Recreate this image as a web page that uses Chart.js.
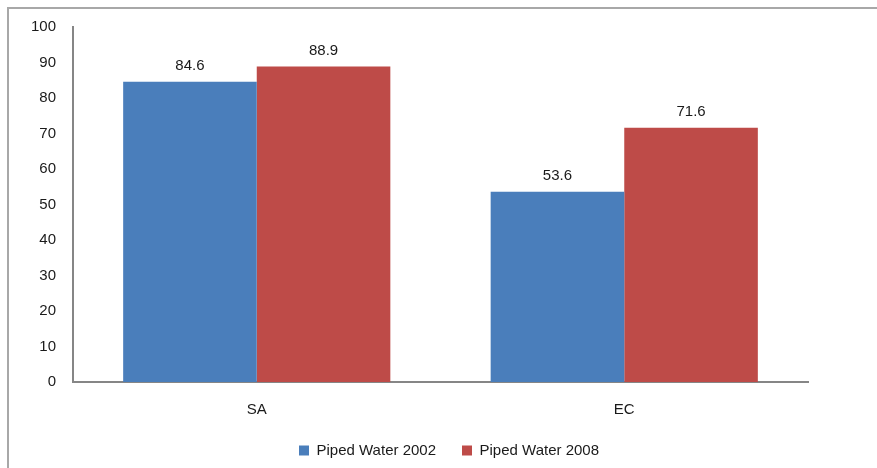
<!DOCTYPE html>
<html>
<head>
<meta charset="utf-8">
<script src="https://cdn.jsdelivr.net/npm/chart.js@4/dist/chart.umd.min.js"></script>
<style>
  html, body { margin: 0; padding: 0; background: #fff; }
  #wrap { position: relative; width: 877px; height: 468px; }
</style>
</head>
<body>
<div id="wrap"><canvas id="c" width="877" height="468"></canvas></div>
<script>
// Share of households with piped water (%)
const categories = ['SA', 'EC'];
const piped2002 = [84.6, 53.6];
const piped2008 = [88.9, 71.6];
const seriesNames = ['Piped Water 2002', 'Piped Water 2008'];
const yTicks = [0, 10, 20, 30, 40, 50, 60, 70, 80, 90, 100];

const FONT = { family: '"Liberation Sans", Arial, sans-serif', size: 15 };

// Frame around the whole chart, legend placement and value labels above bars
const decor = {
  id: 'decor',
  afterLayout(chart) {
    const lg = chart.legend;
    if (lg) {
      lg.left += 45;
      lg.right += 45;
      lg.top += 2;
      lg.bottom += 2;
    }
  },
  beforeDraw(chart) {
    const ctx = chart.ctx;
    ctx.save();
    ctx.fillStyle = '#fff';
    ctx.fillRect(0, 0, chart.width, chart.height);
    ctx.strokeStyle = '#a8a8a8';
    ctx.lineWidth = 2;
    ctx.beginPath();
    ctx.moveTo(8, chart.height + 5);
    ctx.lineTo(8, 8);
    ctx.lineTo(chart.width + 5, 8);
    ctx.stroke();
    ctx.restore();
  },
  afterDatasetsDraw(chart) {
    const ctx = chart.ctx;
    ctx.save();
    ctx.font = `${FONT.size}px ${FONT.family}`;
    ctx.fillStyle = '#1a1a1a';
    ctx.textAlign = 'center';
    ctx.textBaseline = 'bottom';
    chart.data.datasets.forEach((ds, i) => {
      chart.getDatasetMeta(i).data.forEach((bar, j) => {
        ctx.fillText(ds.data[j].toFixed(1), bar.x, bar.y - 8);
      });
    });
    ctx.restore();
  }
};

new Chart(document.getElementById('c'), {
  type: 'bar',
  data: {
    labels: categories,
    datasets: [
      { label: seriesNames[0], data: piped2002, backgroundColor: '#4a7ebb' },
      { label: seriesNames[1], data: piped2008, backgroundColor: '#be4b48' }
    ]
  },
  options: {
    responsive: false,
    animation: false,
    devicePixelRatio: 1,
    layout: { padding: { top: 27, right: 69, left: 0, bottom: 2 } },
    datasets: { bar: { categoryPercentage: 0.727, barPercentage: 1.0 } },
    scales: {
      x: {
        grid: { display: false, drawTicks: false },
        border: { display: true, color: '#868686', width: 2 },
        ticks: { font: FONT, color: '#1a1a1a', padding: 19 },
        afterFit(s) { s.height = 33; }
      },
      y: {
        min: 0, max: 100,
        afterBuildTicks(s) { s.ticks = yTicks.map(v => ({ value: v })); },
        grid: { display: false, drawTicks: false },
        border: { display: true, color: '#868686', width: 2 },
        ticks: { font: FONT, color: '#1a1a1a', padding: 17 },
        afterFit(s) { s.width = 73; }
      }
    },
    plugins: {
      legend: {
        position: 'bottom',
        labels: { font: FONT, color: '#1a1a1a', boxWidth: 10, boxHeight: 10, padding: 26 }
      },
      tooltip: { enabled: false }
    }
  },
  plugins: [decor]
});
</script>
</body>
</html>
